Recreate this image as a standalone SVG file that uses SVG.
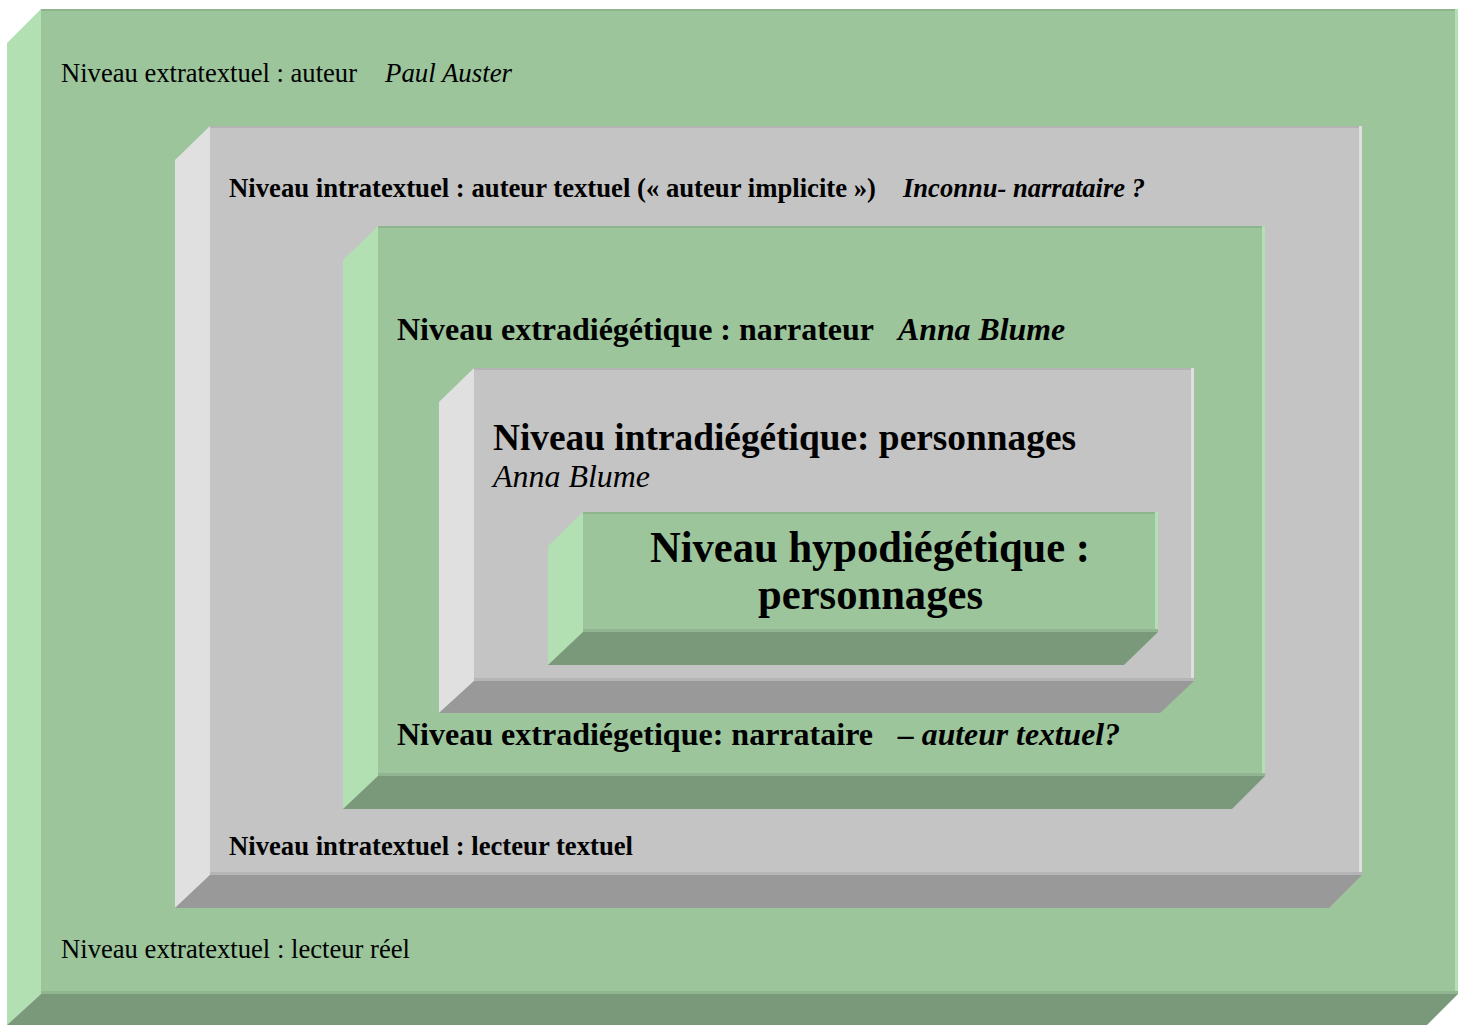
<svg xmlns="http://www.w3.org/2000/svg" width="1465" height="1025" viewBox="0 0 1465 1025">
<style>
.gf{fill:#9cc59c}.gl{fill:#b3e0b3}.gb{fill:#7a997a}
.sf{fill:#c4c4c4}.sl{fill:#e0e0e0}.sb{fill:#999999}
.gt{fill:#8fb58f}.gr{fill:#b3e0b3}.gd{fill:#90b590}
.st{fill:#b3b3b3}.sr{fill:#dedede}.sd{fill:#b5b5b5}
text{font-family:"Liberation Serif","Times New Roman",serif;fill:#000}
.b{font-weight:bold}.i{font-style:italic}
</style>
<rect width="1465" height="1025" fill="#ffffff"/>
<g id="box-extratextuel">
<polygon class="gl" points="7,43 41,9 41,994 7,1025"/>
<polygon class="gb" points="7,1025 41,994 1458,994 1427,1025"/>
<rect class="gf" x="41" y="9" width="1417" height="985"/>
<rect class="gt" x="41" y="9" width="1417" height="2"/>
<rect class="gr" x="1455" y="9" width="3" height="985"/>
<rect class="gd" x="41" y="991" width="1417" height="3"/>
<text x="61" y="82" font-size="27" textLength="296" lengthAdjust="spacingAndGlyphs">Niveau extratextuel : auteur</text>
<text class="i" x="385" y="82" font-size="27" textLength="127" lengthAdjust="spacingAndGlyphs">Paul Auster</text>
<text x="61" y="958" font-size="27" textLength="349" lengthAdjust="spacingAndGlyphs">Niveau extratextuel : lecteur réel</text>
</g>
<g id="box-intratextuel">
<polygon class="sl" points="175,160 210,126 210,875 175,908"/>
<polygon class="sb" points="175,908 210,875 1362,875 1329,908"/>
<rect class="sf" x="210" y="126" width="1152" height="749"/>
<rect class="st" x="210" y="126" width="1152" height="2"/>
<rect class="sr" x="1359" y="126" width="3" height="749"/>
<rect class="sd" x="210" y="872" width="1152" height="3"/>
<text class="b" x="229" y="197" font-size="26.5" textLength="647" lengthAdjust="spacingAndGlyphs">Niveau intratextuel : auteur textuel (« auteur implicite »)</text>
<text class="b i" x="903" y="197" font-size="26.5" textLength="242" lengthAdjust="spacingAndGlyphs">Inconnu- narrataire ?</text>
<text class="b" x="229" y="855" font-size="26.5" textLength="404" lengthAdjust="spacingAndGlyphs">Niveau intratextuel : lecteur textuel</text>
</g>
<g id="box-extradiegetique">
<polygon class="gl" points="343,260 378,226 378,776 343,809"/>
<polygon class="gb" points="343,809 378,776 1265,776 1232,809"/>
<rect class="gf" x="378" y="226" width="887" height="550"/>
<rect class="gt" x="378" y="226" width="887" height="2"/>
<rect class="gr" x="1262" y="226" width="3" height="550"/>
<rect class="gd" x="378" y="773" width="887" height="3"/>
<text class="b" x="397" y="340" font-size="32" textLength="477" lengthAdjust="spacingAndGlyphs">Niveau extradiégétique : narrateur</text>
<text class="b i" x="898" y="340" font-size="32" textLength="167" lengthAdjust="spacingAndGlyphs">Anna Blume</text>
<text class="b" x="397" y="745" font-size="32" textLength="476" lengthAdjust="spacingAndGlyphs">Niveau extradiégetique: narrataire</text>
<text class="b i" x="898" y="745" font-size="32" textLength="222" lengthAdjust="spacingAndGlyphs">– auteur textuel?</text>
</g>
<g id="box-intradiegetique">
<polygon class="sl" points="439,402 474,368 474,681 439,713"/>
<polygon class="sb" points="439,713 474,681 1194,681 1160,713"/>
<rect class="sf" x="474" y="368" width="720" height="313"/>
<rect class="st" x="474" y="368" width="720" height="2"/>
<rect class="sr" x="1191" y="368" width="3" height="313"/>
<rect class="sd" x="474" y="678" width="720" height="3"/>
<text class="b" x="493" y="450" font-size="37" textLength="583" lengthAdjust="spacingAndGlyphs">Niveau intradiégétique: personnages</text>
<text class="i" x="493" y="487" font-size="31" textLength="157" lengthAdjust="spacingAndGlyphs">Anna Blume</text>
</g>
<g id="box-hypodiegetique">
<polygon class="gl" points="548,546 583,512 583,632 548,665"/>
<polygon class="gb" points="548,665 583,632 1158,632 1124,665"/>
<rect class="gf" x="583" y="512" width="575" height="120"/>
<rect class="gt" x="583" y="512" width="575" height="2"/>
<rect class="gr" x="1155" y="512" width="3" height="120"/>
<rect class="gd" x="583" y="629" width="575" height="3"/>
<text class="b" x="650" y="562" font-size="44" textLength="440" lengthAdjust="spacingAndGlyphs">Niveau hypodiégétique :</text>
<text class="b" x="758" y="609" font-size="44" textLength="225" lengthAdjust="spacingAndGlyphs">personnages</text>
</g>
<g id="connectors"></g>
</svg>
